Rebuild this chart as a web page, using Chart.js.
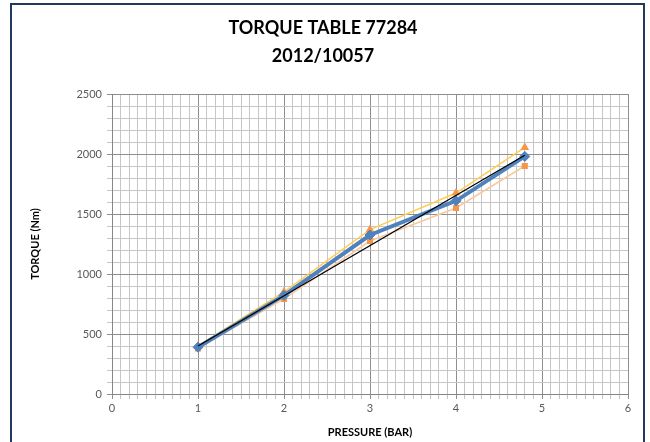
<!DOCTYPE html>
<html>
<head>
<meta charset="utf-8">
<script src="https://cdn.jsdelivr.net/npm/chart.js@4.4.1/dist/chart.umd.min.js"></script>
<style>
html,body{margin:0;padding:0;background:#fff;}
#wrap{position:relative;width:650px;height:442px;}
</style>
</head>
<body>
<div id="wrap"><canvas id="c" width="650" height="442"></canvas></div>
<script>
const pressure = [1, 2, 3, 4, 4.8];
const torqueMean = [390, 822, 1325, 1610, 1980];
const torqueHigh = [400, 852, 1370, 1675, 2055];
const torqueLow = [380, 792, 1275, 1550, 1900];
const trendX = [1, 4.8];
const trendY = [400, 1990];
const titleLines = ['TORQUE TABLE 77284', '2012/10057'];
const xTitle = 'PRESSURE (BAR)';
const yTitle = 'TORQUE (Nm)';
const xMin = 0, xMax = 6, xMinorStep = 0.1;
const yMin = 0, yMax = 2500, yMinorStep = 100, yMajorStep = 500;

const pts = (xs, ys) => xs.map((x, i) => ({x: x, y: ys[i]}));
const isMajorX = v => Math.abs(v - Math.round(v)) < 1e-6;
const isMajorY = v => Math.abs(v / yMajorStep - Math.round(v / yMajorStep)) < 1e-6;

const frame = {
  id: 'frame',
  afterDraw(chart) {
    const c = chart.ctx;
    c.save();
    c.strokeStyle = '#1F3A5F';
    c.lineWidth = 2;
    c.strokeRect(11, 4, 633, 460);
    c.restore();
  }
};

new Chart(document.getElementById('c'), {
  type: 'scatter',
  data: {
    datasets: [
      {
        label: 'Trend',
        data: pts(trendX, trendY),
        showLine: true,
        borderColor: '#000000',
        borderWidth: 1.3,
        pointRadius: 0,
        fill: false
      },
      {
        label: 'Mean',
        data: pts(pressure, torqueMean),
        showLine: true,
        borderColor: '#4F81BD',
        backgroundColor: '#4F81BD',
        borderWidth: 4,
        pointStyle: 'rectRot',
        pointRadius: 5,
        pointBorderWidth: 1,
        fill: false
      },
      {
        label: 'High',
        data: pts(pressure, torqueHigh),
        showLine: true,
        borderColor: '#FFCC55',
        backgroundColor: '#F79646',
        pointBorderColor: '#F79646',
        borderWidth: 1.5,
        pointStyle: 'triangle',
        pointRadius: 3.5,
        fill: false
      },
      {
        label: 'Low',
        data: pts(pressure, torqueLow),
        showLine: true,
        borderColor: '#FAC8A0',
        backgroundColor: '#F79646',
        pointBorderColor: '#F79646',
        borderWidth: 1.5,
        pointStyle: 'rect',
        pointRadius: 3.2,
        fill: false
      }
    ]
  },
  options: {
    responsive: false,
    animation: false,
    layout: {padding: {left: 18, right: 22, top: 0, bottom: 0}},
    plugins: {
      legend: {display: false},
      tooltip: {enabled: false},
      title: {
        display: true,
        text: titleLines,
        color: '#000000',
        font: {family: 'Lato', size: 18, weight: 'bold', lineHeight: 1.556},
        padding: {top: 14, bottom: 24}
      }
    },
    scales: {
      x: {
        type: 'linear',
        min: xMin, max: xMax,
        afterFit(s) { s.height = 48; },
        border: {color: '#868686', width: 1},
        grid: {
          color: ctx => isMajorX(ctx.tick.value) ? '#8E8E8E' : '#C6C6C6',
          tickColor: ctx => isMajorX(ctx.tick.value) ? '#8E8E8E' : '#C6C6C6',
          tickLength: 5,
          lineWidth: 1
        },
        ticks: {
          stepSize: xMinorStep,
          autoSkip: false,
          maxRotation: 0,
          maxTicksLimit: 100,
          padding: 3,
          color: '#595959',
          font: {family: 'Lato', size: 11},
          callback: v => isMajorX(v) ? String(Math.round(v)) : ''
        },
        title: {
          display: true,
          text: xTitle,
          color: '#000000',
          font: {family: 'Lato', size: 11, weight: 'bold'},
          padding: {top: 0, bottom: 3}
        }
      },
      y: {
        type: 'linear',
        min: yMin, max: yMax,
        afterFit(s) { s.width = 94; },
        border: {color: '#868686', width: 1},
        grid: {
          color: ctx => isMajorY(ctx.tick.value) ? '#8E8E8E' : '#C6C6C6',
          tickColor: ctx => isMajorY(ctx.tick.value) ? '#8E8E8E' : '#C6C6C6',
          tickLength: 5,
          lineWidth: 1
        },
        ticks: {
          stepSize: yMinorStep,
          autoSkip: false,
          maxTicksLimit: 100,
          padding: 5,
          color: '#595959',
          font: {family: 'Lato', size: 11},
          callback: v => isMajorY(v) ? String(v) : ''
        },
        title: {
          display: true,
          text: yTitle,
          color: '#000000',
          font: {family: 'Lato', size: 11, weight: 'bold'},
          padding: {top: 11, bottom: 0}
        }
      }
    }
  },
  plugins: [frame]
});
</script>
</body>
</html>
